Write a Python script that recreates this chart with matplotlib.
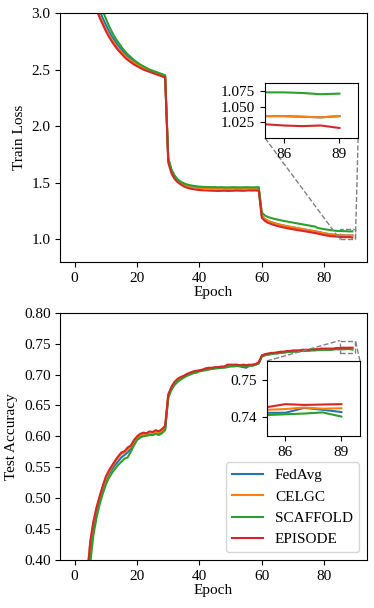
import matplotlib
matplotlib.use("Agg")
import matplotlib.pyplot as plt
import numpy as np
from mpl_toolkits.axes_grid1.inset_locator import mark_inset

plt.rcParams['font.family'] = ['Liberation Serif', 'DejaVu Serif']
plt.rcParams['mathtext.fontset'] = 'stix'
plt.rcParams['font.size'] = 11

epochs = list(range(90))
methods = ["FedAvg", "CELGC", "SCAFFOLD", "EPISODE"]
colors = ["#1f77b4", "#ff7f0e", "#2ca02c", "#d62728"]

loss_episode = [4.60, 4.15, 3.82, 3.57, 3.38, 3.23, 3.11, 3.03, 2.96, 2.90,
                2.84, 2.79, 2.745, 2.705, 2.67, 2.64, 2.61, 2.585, 2.565, 2.545,
                2.53, 2.515, 2.50, 2.49, 2.48, 2.47, 2.46, 2.45, 2.44, 2.43,
                1.68, 1.585, 1.535, 1.505, 1.485, 1.468, 1.457, 1.449, 1.443, 1.439,
                1.436, 1.434, 1.432, 1.431, 1.430, 1.429, 1.428, 1.429, 1.430, 1.428,
                1.429, 1.430, 1.431, 1.430, 1.429, 1.431, 1.432, 1.431, 1.432, 1.430,
                1.19, 1.162, 1.146, 1.135, 1.126, 1.118, 1.111, 1.105, 1.099, 1.094,
                1.089, 1.084, 1.079, 1.075, 1.070, 1.066, 1.061, 1.056, 1.050, 1.044,
                1.038, 1.033, 1.029, 1.026, 1.024, 1.022, 1.020, 1.019, 1.020, 1.016]
loss_scaffold = [4.75, 4.35, 4.02, 3.76, 3.56, 3.40, 3.27, 3.16, 3.08, 3.02,
                 2.95, 2.885, 2.83, 2.78, 2.74, 2.70, 2.665, 2.635, 2.61, 2.585,
                 2.565, 2.545, 2.53, 2.515, 2.50, 2.49, 2.48, 2.47, 2.46, 2.45,
                 1.72, 1.62, 1.565, 1.53, 1.51, 1.495, 1.485, 1.478, 1.473, 1.469,
                 1.466, 1.464, 1.463, 1.462, 1.461, 1.461, 1.460, 1.461, 1.460, 1.459,
                 1.460, 1.461, 1.460, 1.459, 1.460, 1.461, 1.460, 1.459, 1.460, 1.461,
                 1.235, 1.21, 1.197, 1.188, 1.181, 1.175, 1.169, 1.163, 1.158, 1.153,
                 1.148, 1.143, 1.138, 1.133, 1.128, 1.123, 1.118, 1.113, 1.100, 1.095,
                 1.090, 1.086, 1.082, 1.078, 1.075, 1.073, 1.073, 1.072, 1.070, 1.071]
loss_celgc = [4.62, 4.18, 3.86, 3.60, 3.41, 3.26, 3.14, 3.05, 2.975, 2.91,
              2.855, 2.805, 2.76, 2.72, 2.685, 2.655, 2.625, 2.60, 2.58, 2.56,
              2.543, 2.528, 2.514, 2.502, 2.49, 2.48, 2.47, 2.46, 2.45, 2.44,
              1.70, 1.605, 1.553, 1.52, 1.50, 1.485, 1.475, 1.468, 1.462, 1.458,
              1.455, 1.453, 1.452, 1.451, 1.450, 1.450, 1.449, 1.450, 1.449, 1.448,
              1.449, 1.450, 1.449, 1.448, 1.449, 1.450, 1.449, 1.448, 1.449, 1.450,
              1.205, 1.178, 1.163, 1.152, 1.143, 1.135, 1.128, 1.122, 1.116, 1.111,
              1.106, 1.101, 1.096, 1.091, 1.086, 1.081, 1.076, 1.071, 1.066, 1.060,
              1.054, 1.049, 1.045, 1.041, 1.038, 1.035, 1.035, 1.034, 1.033, 1.035]
loss_fedavg = [4.68, 4.26, 3.94, 3.68, 3.48, 3.32, 3.20, 3.10, 3.02, 2.955,
               2.895, 2.84, 2.79, 2.75, 2.71, 2.675, 2.645, 2.617, 2.594, 2.573,
               2.555, 2.538, 2.523, 2.51, 2.497, 2.486, 2.476, 2.466, 2.456, 2.446,
               1.705, 1.61, 1.557, 1.523, 1.503, 1.488, 1.477, 1.470, 1.464, 1.460,
               1.457, 1.455, 1.454, 1.453, 1.452, 1.452, 1.451, 1.452, 1.451, 1.450,
               1.451, 1.452, 1.451, 1.450, 1.451, 1.452, 1.451, 1.450, 1.451, 1.452,
               1.205, 1.178, 1.163, 1.152, 1.143, 1.135, 1.128, 1.122, 1.116, 1.111,
               1.106, 1.101, 1.096, 1.091, 1.086, 1.081, 1.076, 1.071, 1.066, 1.060,
               1.054, 1.049, 1.045, 1.041, 1.038, 1.035, 1.035, 1.034, 1.033, 1.035]

acc_episode = [0.10, 0.18, 0.25, 0.31, 0.37, 0.43, 0.462, 0.485, 0.503, 0.520,
               0.535, 0.545, 0.553, 0.561, 0.568, 0.574, 0.576, 0.582, 0.585, 0.594,
               0.600, 0.604, 0.606, 0.605, 0.608, 0.607, 0.610, 0.608, 0.612, 0.617,
               0.668, 0.680, 0.688, 0.693, 0.696, 0.698, 0.701, 0.703, 0.705, 0.706,
               0.707, 0.708, 0.710, 0.711, 0.711, 0.712, 0.712, 0.713, 0.713, 0.716,
               0.716, 0.716, 0.716, 0.715, 0.716, 0.715, 0.716, 0.716, 0.717, 0.720,
               0.731, 0.733, 0.734, 0.735, 0.735, 0.736, 0.737, 0.737, 0.738, 0.738,
               0.739, 0.739, 0.739, 0.740, 0.740, 0.740, 0.741, 0.741, 0.741, 0.742,
               0.742, 0.742, 0.742, 0.742, 0.743, 0.7427, 0.7435, 0.7433, 0.7434, 0.7435]
acc_scaffold = [0.08, 0.15, 0.22, 0.28, 0.34, 0.395, 0.44, 0.468, 0.49, 0.507,
                0.522, 0.533, 0.541, 0.548, 0.554, 0.559, 0.564, 0.566, 0.575, 0.585,
                0.594, 0.598, 0.600, 0.601, 0.602, 0.602, 0.604, 0.602, 0.605, 0.610,
                0.662, 0.675, 0.683, 0.688, 0.692, 0.695, 0.698, 0.700, 0.702, 0.703,
                0.705, 0.706, 0.707, 0.708, 0.709, 0.710, 0.710, 0.711, 0.711, 0.712,
                0.713, 0.713, 0.714, 0.714, 0.714, 0.713, 0.715, 0.714, 0.716, 0.718,
                0.729, 0.731, 0.732, 0.733, 0.734, 0.734, 0.735, 0.736, 0.736, 0.737,
                0.737, 0.737, 0.738, 0.738, 0.738, 0.739, 0.739, 0.739, 0.740, 0.740,
                0.740, 0.740, 0.740, 0.741, 0.741, 0.7406, 0.7408, 0.7410, 0.7413, 0.7402]
acc_celgc = [0.11, 0.19, 0.26, 0.32, 0.38, 0.428, 0.46, 0.483, 0.501, 0.517,
             0.531, 0.542, 0.551, 0.559, 0.566, 0.572, 0.574, 0.579, 0.583, 0.591,
             0.598, 0.602, 0.603, 0.604, 0.605, 0.605, 0.607, 0.606, 0.609, 0.614,
             0.666, 0.678, 0.686, 0.691, 0.695, 0.697, 0.700, 0.702, 0.704, 0.705,
             0.706, 0.707, 0.709, 0.710, 0.710, 0.711, 0.711, 0.712, 0.712, 0.714,
             0.715, 0.715, 0.715, 0.714, 0.715, 0.714, 0.715, 0.715, 0.716, 0.719,
             0.730, 0.732, 0.733, 0.734, 0.735, 0.735, 0.736, 0.736, 0.737, 0.737,
             0.738, 0.738, 0.738, 0.739, 0.739, 0.739, 0.740, 0.740, 0.740, 0.741,
             0.741, 0.741, 0.741, 0.741, 0.742, 0.7420, 0.7422, 0.7426, 0.7423, 0.7424]
acc_fedavg = [0.09, 0.16, 0.235, 0.295, 0.355, 0.41, 0.45, 0.476, 0.497, 0.514,
              0.528, 0.539, 0.547, 0.554, 0.560, 0.566, 0.570, 0.574, 0.580, 0.589,
              0.597, 0.600, 0.602, 0.603, 0.604, 0.604, 0.606, 0.605, 0.607, 0.612,
              0.665, 0.677, 0.685, 0.690, 0.694, 0.697, 0.699, 0.701, 0.703, 0.705,
              0.706, 0.707, 0.708, 0.709, 0.710, 0.710, 0.711, 0.711, 0.712, 0.713,
              0.714, 0.714, 0.714, 0.713, 0.712, 0.711, 0.714, 0.715, 0.716, 0.718,
              0.730, 0.7315, 0.7325, 0.7335, 0.7345, 0.7345, 0.7355, 0.7355, 0.7365, 0.7365,
              0.7375, 0.7375, 0.7375, 0.7385, 0.7385, 0.7385, 0.7395, 0.7395, 0.7395, 0.7405,
              0.7405, 0.7405, 0.7405, 0.7408, 0.7412, 0.7412, 0.7412, 0.7425, 0.7420, 0.7414]

loss_series = [loss_fedavg, loss_celgc, loss_scaffold, loss_episode]
acc_series = [acc_fedavg, acc_celgc, acc_scaffold, acc_episode]

W, H = 374, 608
fig = plt.figure(figsize=(W / 100, H / 100), dpi=100)

ax1 = fig.add_axes([60.3 / W, 1 - 262 / H, 306.4 / W, 249 / H])
ax2 = fig.add_axes([60.3 / W, 1 - 560 / H, 306.4 / W, 247.3 / H])

lw = 1.5
for ys, c, m in zip(loss_series, colors, methods):
    ax1.plot(epochs, ys, color=c, lw=lw, label=m)
ax1.set_ylim(0.8, 3.0)
ax1.set_xlim(-4.6, 93.6)
ax1.set_xticks([0, 20, 40, 60, 80])
ax1.set_yticks([1.0, 1.5, 2.0, 2.5, 3.0])
ax1.set_xlabel("Epoch", labelpad=1)
ax1.set_ylabel("Train Loss")

ins1 = ax1.inset_axes([0.668, 0.498, 0.304, 0.221])
for ys, c in zip(loss_series, colors):
    ins1.plot(epochs, ys, color=c, lw=lw)
ins1.set_xlim(85, 90)
ins1.set_ylim(1.0, 1.088)
ins1.set_xticks([86, 89])
ins1.set_yticks([1.025, 1.050, 1.075])
ins1.set_yticklabels(["1.025", "1.050", "1.075"])
mark_inset(ax1, ins1, loc1=3, loc2=4, fc="none", ec="0.5", ls="--", lw=1)

for ys, c, m in zip(acc_series, colors, methods):
    ax2.plot(epochs, ys, color=c, lw=lw, label=m)
ax2.set_ylim(0.40, 0.80)
ax2.set_xlim(-4.6, 93.6)
ax2.set_xticks([0, 20, 40, 60, 80])
ax2.set_yticks([0.40, 0.45, 0.50, 0.55, 0.60, 0.65, 0.70, 0.75, 0.80])
ax2.set_yticklabels(["0.40", "0.45", "0.50", "0.55", "0.60", "0.65", "0.70", "0.75", "0.80"])
ax2.set_xlabel("Epoch", labelpad=1)
ax2.set_ylabel("Test Accuracy")
ax2.legend(loc="lower right")

ins2 = ax2.inset_axes([0.674, 0.501, 0.304, 0.304])
for ys, c in zip(acc_series, colors):
    ins2.plot(epochs, ys, color=c, lw=lw)
ins2.set_xlim(85, 90)
ins2.set_ylim(0.735, 0.755)
ins2.set_xticks([86, 89])
ins2.set_yticks([0.74, 0.75])
ins2.set_yticklabels(["0.74", "0.75"])
mark_inset(ax2, ins2, loc1=2, loc2=1, fc="none", ec="0.5", ls="--", lw=1)

fig.savefig("out.png", dpi=100)
